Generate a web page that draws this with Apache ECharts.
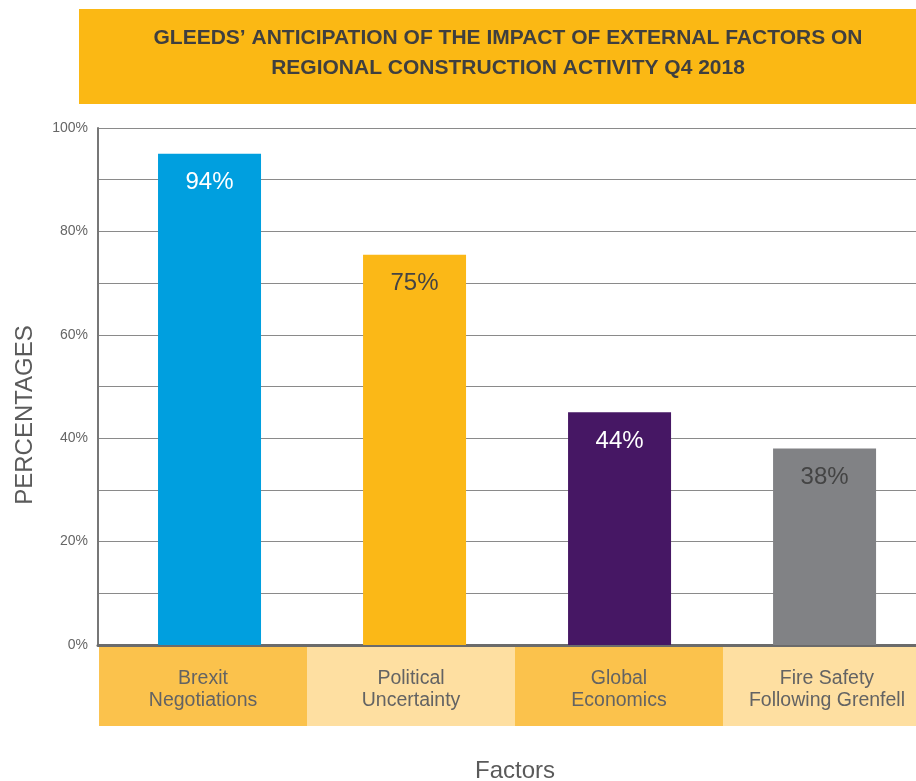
<!DOCTYPE html>
<html><head><meta charset="utf-8">
<script src="https://cdn.jsdelivr.net/npm/echarts@6/dist/echarts.min.js"></script>
<style>html,body{margin:0;padding:0;background:#fff}#c{width:916px;height:781px}</style>
</head><body><div id="c"></div>
<script>
var titleLines = ["GLEEDS\u2019 ANTICIPATION OF THE IMPACT OF EXTERNAL FACTORS ON", "REGIONAL CONSTRUCTION ACTIVITY Q4 2018"];
var categories = ["Brexit\nNegotiations", "Political\nUncertainty", "Global\nEconomics", "Fire Safety\nFollowing Grenfell"];
var values = [95, 75.5, 45, 38];
var valueLabels = ["94%", "75%", "44%", "38%"];
var barColors = ["#009FDF", "#FBB817", "#461764", "#818285"];
var labelColors = ["#ffffff", "#444444", "#ffffff", "#444444"];
var bandColors = ["#FBC24C", "#FEDFA1", "#FBC24C", "#FEDFA1"];
var yTicks = [0, 20, 40, 60, 80, 100];
var yName = "PERCENTAGES";
var xName = "Factors";

var chart = echarts.init(document.getElementById('c'));
var font = "'Liberation Sans', Arial, Helvetica, sans-serif";
chart.setOption({
  animation: false,
  textStyle: {fontFamily: font},
  graphic: [
    {type: 'rect', shape: {x: 79, y: 9, width: 837, height: 95}, style: {fill: '#FBB814'}, z: 0},
    {type: 'text', x: 508, y: 38, style: {text: titleLines[0], fill: '#3f3f3f', font: "bold 21px " + font, textAlign: 'center', textVerticalAlign: 'middle'}},
    {type: 'text', x: 508, y: 68, style: {text: titleLines[1], fill: '#3f3f3f', font: "bold 21px " + font, textAlign: 'center', textVerticalAlign: 'middle'}},
    {type: 'text', x: 515, y: 771, style: {text: xName, fill: '#5a5a5a', font: "24px " + font, textAlign: 'center', textVerticalAlign: 'middle'}},
    {type: 'text', x: 25, y: 415, rotation: Math.PI / 2, style: {text: yName, fill: '#5a5a5a', font: "24px " + font, textAlign: 'center', textVerticalAlign: 'middle'}}
  ],
  grid: [
    {left: 98, right: 0, top: 128, bottom: 136},
    {left: 98, right: 0, top: 647, height: 79}
  ],
  xAxis: [
    {gridIndex: 0, type: 'category', data: categories, axisLine: {show: true, lineStyle: {color: '#6b6b6b', width: 3}}, axisTick: {show: false}, axisLabel: {show: false}},
    {gridIndex: 0, type: 'value', min: -0.544, max: 3.446, show: false, splitLine: {show: false}},
    {gridIndex: 1, type: 'value', min: -0.505, max: 3.428, show: false, splitLine: {show: false}}
  ],
  yAxis: [
    {gridIndex: 0, type: 'value', min: 0, max: 100, interval: 10,
      axisLine: {show: true, onZero: false, lineStyle: {color: '#777777', width: 2}}, axisTick: {show: false},
      axisLabel: {fontSize: 14, color: '#666666', margin: 10,
        formatter: function (v) { return yTicks.indexOf(v) >= 0 ? v + '%' : ''; }},
      splitLine: {lineStyle: {color: '#8a8a8a', width: 1}}},
    {gridIndex: 1, type: 'value', min: 0, max: 1, show: false, splitLine: {show: false}}
  ],
  series: [
    {type: 'bar', xAxisIndex: 2, yAxisIndex: 1, barWidth: 208, silent: true,
      data: categories.map(function (c, i) {
        return {value: [i, 1], itemStyle: {color: bandColors[i]}};
      }),
      label: {show: true, position: 'inside', offset: [0, 3], formatter: function (p) { return categories[p.dataIndex]; },
        color: '#636363', fontSize: 19.5, lineHeight: 22}},
    {type: 'bar', xAxisIndex: 1, yAxisIndex: 0, barWidth: 103, z: 3,
      data: values.map(function (v, i) {
        return {value: [i, v], itemStyle: {color: barColors[i]},
          label: {color: labelColors[i]}};
      }),
      label: {show: true, position: 'insideTop', distance: 17, fontSize: 24,
        formatter: function (p) { return valueLabels[p.dataIndex]; }}}
  ]
});
</script></body></html>
